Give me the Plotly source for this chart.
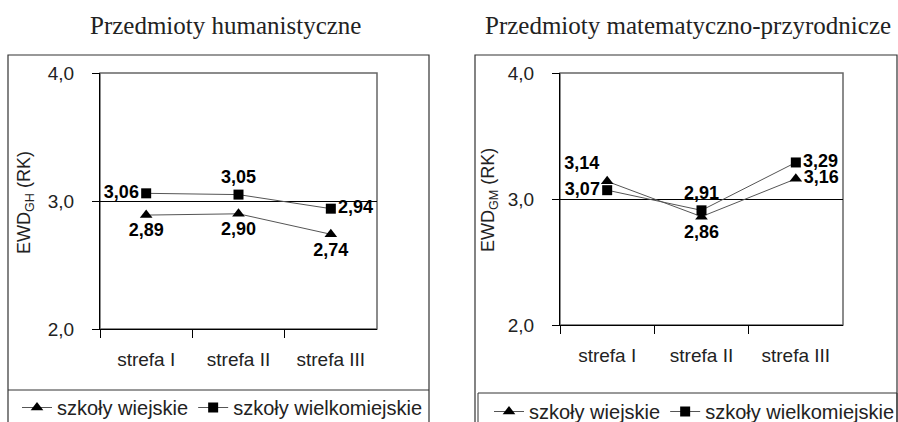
import plotly.graph_objects as go

W, H = 898, 422

categories = ["strefa I", "strefa II", "strefa III"]

hum_wiejskie = [2.89, 2.90, 2.74]
hum_wielkomiejskie = [3.06, 3.05, 2.94]
mat_wiejskie = [3.14, 2.86, 3.16]
mat_wielkomiejskie = [3.07, 2.91, 3.29]

y_ticks = [2.0, 3.0, 4.0]
y_ticktext = ["2,0", "3,0", "4,0"]

titles = ["Przedmioty humanistyczne", "Przedmioty matematyczno-przyrodnicze"]
y_titles = ["EWD<sub>GH</sub> (RK)", "EWD<sub>GM</sub> (RK)"]
series_names = ["szkoły wiejskie", "szkoły wielkomiejskie"]


def fmt(v):
    return f"{v:.2f}".replace(".", ",")


def px(x):
    return x / W


def py(y):
    return 1 - y / H


SANS = "Liberation Sans, Arial, sans-serif"
SERIF = "Liberation Serif, Times New Roman, serif"
LINE_C = "#555555"

fig = go.Figure()

panels = [
    dict(x="x", y="y", leg="legend",
         tri=hum_wiejskie, sq=hum_wielkomiejskie,
         tri_pos=["bottom center", "bottom center", "bottom center"],
         sq_pos=["middle left", "top center", "middle right"]),
    dict(x="x2", y="y2", leg="legend2",
         tri=mat_wiejskie, sq=mat_wielkomiejskie,
         tri_pos=["top left", "bottom center", "middle right"],
         sq_pos=["middle left", "top center", "middle right"]),
]

for p in panels:
    fig.add_trace(go.Scatter(
        x=categories, y=p["tri"], name=series_names[0],
        mode="lines+markers+text",
        line=dict(color=LINE_C, width=1),
        marker=dict(symbol="triangle-up", size=11, color="black"),
        text=[fmt(v) for v in p["tri"]], textposition=p["tri_pos"],
        textfont=dict(family=SANS, size=18, color="black", weight="bold"),
        xaxis=p["x"], yaxis=p["y"], legend=p["leg"], cliponaxis=False,
    ))
    fig.add_trace(go.Scatter(
        x=categories, y=p["sq"], name=series_names[1],
        mode="lines+markers+text",
        line=dict(color=LINE_C, width=1),
        marker=dict(symbol="square", size=10, color="black"),
        text=[fmt(v) for v in p["sq"]], textposition=p["sq_pos"],
        textfont=dict(family=SANS, size=18, color="black", weight="bold"),
        xaxis=p["x"], yaxis=p["y"], legend=p["leg"], cliponaxis=False,
    ))

xcommon = dict(
    type="category", range=[-0.5, 2.5], tickson="boundaries",
    ticks="outside", ticklen=8, tickcolor="black",
    showline=True, linecolor="black", linewidth=1,
    showgrid=False, zeroline=False, fixedrange=True, automargin=False,
    tickfont=dict(family=SANS, size=19, color="#222222"),
    ticklabelstandoff=13,
)
ycommon = dict(
    range=[2.0, 4.0], tickvals=y_ticks, ticktext=y_ticktext,
    ticks="outside", ticklen=7, tickcolor="black",
    showline=True, linecolor="black", linewidth=1,
    showgrid=True, gridcolor="black", gridwidth=1,
    zeroline=False, fixedrange=True, automargin=False,
    tickfont=dict(family=SANS, size=19, color="#222222"),
    ticklabelstandoff=14,
)

fig.update_layout(
    width=W, height=H, autosize=False,
    margin=dict(l=0, r=0, t=0, b=0, pad=0, autoexpand=False),
    paper_bgcolor="white", plot_bgcolor="white",
    xaxis=dict(domain=[px(100), px(377)], anchor="y", **xcommon),
    yaxis=dict(domain=[py(329), py(73)], anchor="x", **ycommon),
    xaxis2=dict(domain=[px(560), px(843)], anchor="y2", **xcommon),
    yaxis2=dict(domain=[py(325), py(73)], anchor="x2", **ycommon),
    legend=dict(orientation="h", x=px(17), xanchor="left", y=py(388), yanchor="top",
                font=dict(family=SANS, size=20, color="#222222"),
                bgcolor="rgba(0,0,0,0)", borderwidth=0, itemwidth=30,
                tracegroupgap=0),
    legend2=dict(orientation="h", x=px(489), xanchor="left", y=py(392), yanchor="top",
                 font=dict(family=SANS, size=20, color="#222222"),
                 bgcolor="rgba(0,0,0,0)", borderwidth=0, itemwidth=30,
                 tracegroupgap=0),
    showlegend=True,
)

shapes = []
# outer frames
for x0, x1 in [(8, 429), (475, 897)]:
    shapes.append(dict(type="rect", xref="paper", yref="paper",
                       x0=px(x0), x1=px(x1), y0=py(430), y1=py(55),
                       line=dict(color="#333333", width=1.2), layer="below"))
# legend boxes
shapes.append(dict(type="line", xref="paper", yref="paper",
                   x0=px(8), x1=px(429), y0=py(390), y1=py(390),
                   line=dict(color="#333333", width=1)))
shapes.append(dict(type="rect", xref="paper", yref="paper",
                   x0=px(478), x1=px(897), y0=py(430), y1=py(393),
                   line=dict(color="#333333", width=1)))
# plot frames (top/right in gray)
for xr, yr in [("x", "y"), ("x2", "y2")]:
    shapes.append(dict(type="rect", xref=f"{xr} domain", yref=f"{yr} domain",
                       x0=0, x1=1, y0=0, y1=1,
                       line=dict(color="#666666", width=1.5), layer="below"))
fig.update_layout(shapes=shapes)

annotations = [
    dict(text=titles[0], x=px(225), y=py(26), xref="paper", yref="paper",
         showarrow=False, xanchor="center", yanchor="middle",
         font=dict(family=SERIF, size=25, color="#222222")),
    dict(text=titles[1], x=px(688), y=py(26), xref="paper", yref="paper",
         showarrow=False, xanchor="center", yanchor="middle",
         font=dict(family=SERIF, size=25, color="#222222")),
    dict(text=y_titles[0], x=px(25), y=py(203), xref="paper", yref="paper",
         showarrow=False, xanchor="center", yanchor="middle", textangle=-90,
         font=dict(family=SANS, size=18, color="#222222")),
    dict(text=y_titles[1], x=px(489), y=py(200), xref="paper", yref="paper",
         showarrow=False, xanchor="center", yanchor="middle", textangle=-90,
         font=dict(family=SANS, size=18, color="#222222")),
]
fig.update_layout(annotations=annotations)

fig.write_html(
    "out.html",
    config={"displayModeBar": False},
    post_script="document.body.style.margin='0';document.body.style.overflow='hidden';",
)
